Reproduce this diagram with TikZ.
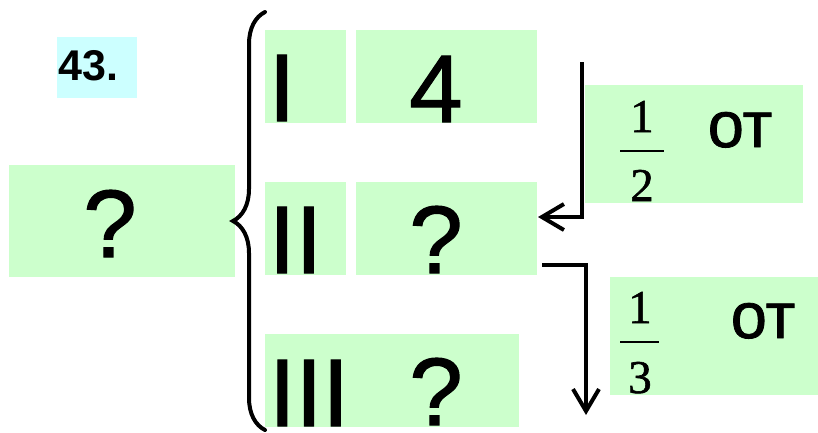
\documentclass[tikz,border=0pt]{standalone}
\usepackage{fontspec}
\usetikzlibrary{arrows.meta,decorations.pathreplacing}
\newfontfamily\arialf{Liberation Sans}
\newfontface\arialheavy{Liberation Sans}[FakeBold=1.2]
\newfontface\timesf{Liberation Serif}[FakeBold=1.2]
\definecolor{boxgreen}{HTML}{CCFFCC}
\definecolor{boxcyan}{HTML}{CCFFFF}
\begin{document}
\begin{tikzpicture}[x=1pt,y=-1pt,
  box/.style={fill=boxgreen, draw=none, inner sep=0pt, anchor=north west},
  bigtxt/.style={anchor=base, inner sep=0pt, font=\arialheavy\fontsize{96}{96}\selectfont},
  ottxt/.style={anchor=base, inner sep=0pt, font=\arialheavy\fontsize{65}{65}\selectfont},
  fractxt/.style={anchor=base, inner sep=0pt, font=\timesf\fontsize{47}{47}\selectfont},
  fracbar/.style={line width=2pt},
  conn/.style={line width=4pt, -{Straight Barb[length=22pt,width=26pt]}}
]
\useasboundingbox (0,0) rectangle (818,432);
% boxes
\node[box, fill=boxcyan, minimum width=80pt, minimum height=61pt] (num) at (57,37) {};
\node[box, minimum width=226pt, minimum height=112pt] (big) at (9,165) {};
\node[box, minimum width=81pt, minimum height=93pt] (b1) at (265,30) {};
\node[box, minimum width=181pt, minimum height=93pt] (b4) at (356,30) {};
\node[box, minimum width=81pt, minimum height=93pt] (b2) at (265,182) {};
\node[box, minimum width=181pt, minimum height=93pt] (bq2) at (356,182) {};
\node[box, minimum width=254pt, minimum height=93pt] (b3) at (265,334) {};
\node[box, minimum width=218pt, minimum height=118pt] (f1) at (585,85) {};
\node[box, minimum width=208pt, minimum height=118pt] (f2) at (610,277) {};
% texts
\node[anchor=base west, inner sep=0pt, font=\arialf\bfseries\fontsize{43}{43}\selectfont] (numt) at (58,80) {43.};
\node[bigtxt] (bigq) at (110,257) {?};
\node[bigtxt] (t1) at (282,121) {I};
\node[bigtxt] (t4) at (436,122) {4};
\node[bigtxt] (t2) at (295.5,273) {II};
\node[bigtxt] (tq2) at (436,273) {?};
\node[bigtxt] (t3) at (309,426) {III};
\node[bigtxt] (tq3) at (436,425) {?};
% fraction 1/2
\node[fractxt] (fr1n) at (642,132) {1};
\node[fractxt] (fr1d) at (642,201) {2};
\draw[fracbar] (620,151) -- (664,151);
\node[ottxt] (ot1) at (740,147) {от};
% fraction 1/3
\node[fractxt] (fr2n) at (640,323) {1};
\node[fractxt] (fr2d) at (640,393) {3};
\draw[fracbar] (620,342) -- (659,342);
\node[ottxt] (ot2) at (763,338) {от};
% brace
\draw[line width=4pt, line cap=round, decorate, decoration={brace, amplitude=32pt, aspect=0.5}] (265,430) -- (265,12);
% connectors
\coordinate (a1s) at (582,62);
\coordinate (a1e) at (538,217);
\coordinate (a2s) at (542,265);
\coordinate (a2e) at (586,415);
\draw[conn] (a1s) |- (a1e);
\draw[conn] (a2s) -| (a2e);
\end{tikzpicture}
\end{document}
